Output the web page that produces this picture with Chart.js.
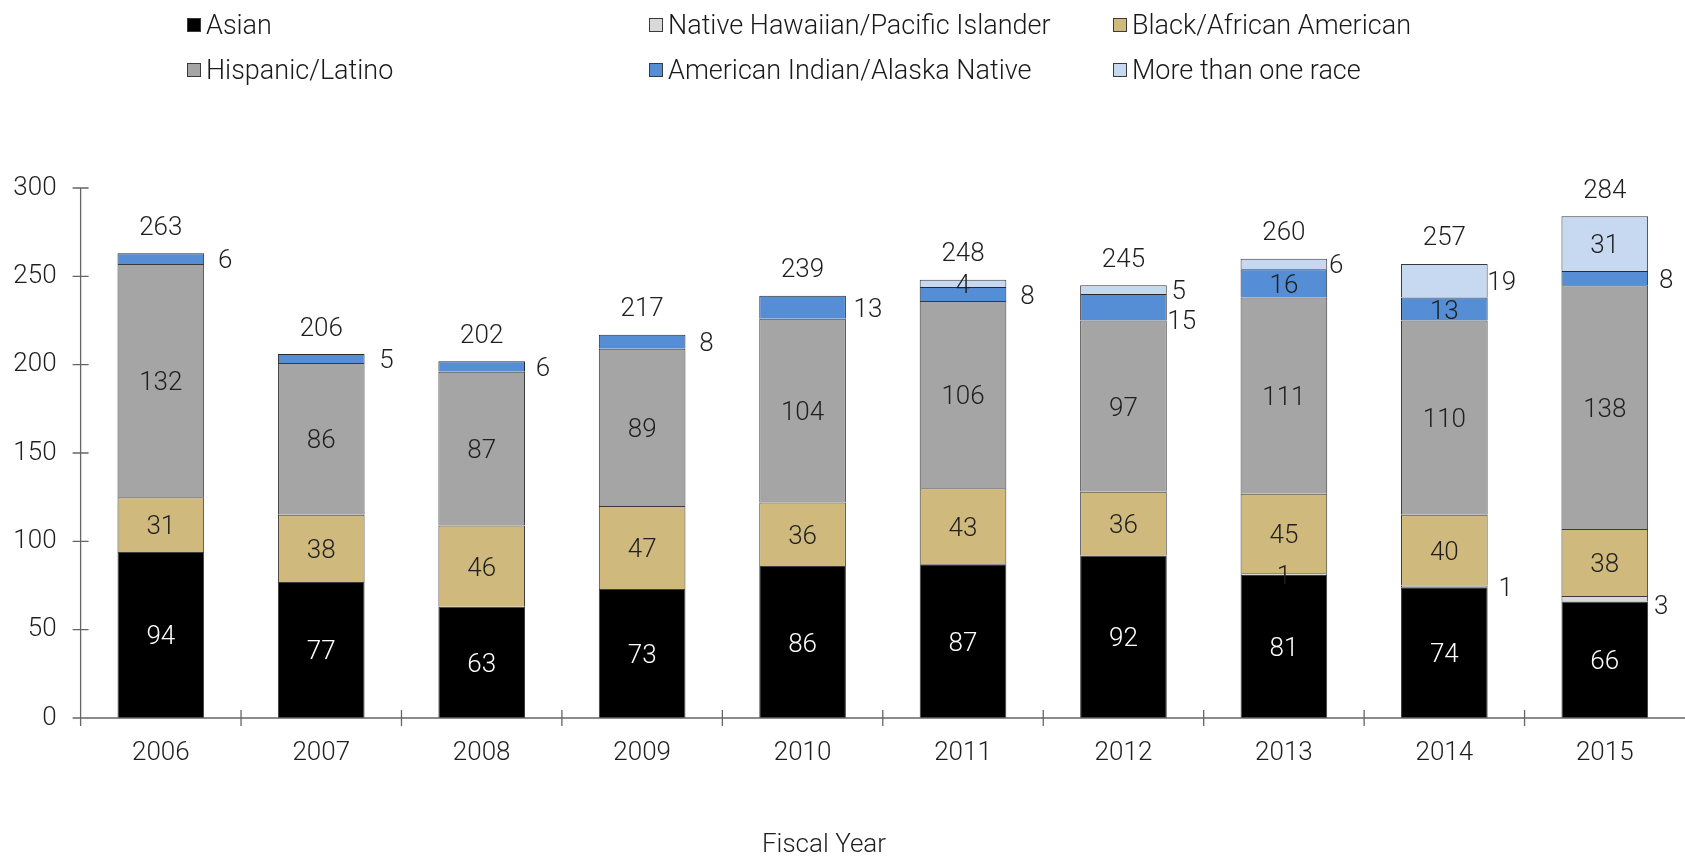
<!DOCTYPE html>
<html>
<head>
<meta charset="utf-8">
<script src="https://cdn.jsdelivr.net/npm/chart.js@4.4.1/dist/chart.umd.min.js"></script>
<style>
  html, body { margin: 0; padding: 0; background: #fff; }
  #wrap { position: relative; width: 1685px; height: 857px; }
  #legend { position: absolute; left: 0; top: 0; width: 1685px; height: 100px;
            font-family: Roboto, "Liberation Sans", sans-serif; font-weight: 300; font-size: 27px; color: #1a1a1a; }
  .item { position: absolute; display: flex; align-items: center; white-space: nowrap; transform: translateY(-50%); }
  .box { width: 12px; height: 12px; border: 1px solid #3a3a3a; margin-right: 5px; }
</style>
</head>
<body>
<div id="wrap">
  <canvas id="myChart" width="1685" height="857"></canvas>
  <div id="legend"></div>
</div>
<script>
// fiscal years and headcounts per group
var years = ['2006', '2007', '2008', '2009', '2010', '2011', '2012', '2013', '2014', '2015'];
var asian    = [94, 77, 63, 73, 86, 87, 92, 81, 74, 66];
var pacific  = [0, 0, 0, 0, 0, 0, 0, 1, 1, 3];
var black    = [31, 38, 46, 47, 36, 43, 36, 45, 40, 38];
var hispanic = [132, 86, 87, 89, 104, 106, 97, 111, 110, 138];
var indian   = [6, 5, 6, 8, 13, 8, 15, 16, 13, 8];
var multi    = [0, 0, 0, 0, 0, 4, 5, 6, 19, 31];
var yTicks   = [0, 50, 100, 150, 200, 250, 300];

var FONT = 'Roboto, "Liberation Sans", sans-serif';
var TEXT = '#1f1f1f';

// labels that sit beside the bar instead of inside it: "dataset-year": [dx, dy]
var beside = {
  '4-0': [21, 0], '4-1': [22, 0], '4-2': [18, 0], '4-3': [21, 0], '4-4': [22, 0],
  '4-5': [21, 0], '4-6': [15, 12], '4-9': [18, 0],
  '5-6': [12, 0], '5-7': [9, 0], '5-8': [14, 0],
  '1-8': [18, 0], '1-9': [13, 6]
};

var totals = years.map(function(_, i) {
  return asian[i] + pacific[i] + black[i] + hispanic[i] + indian[i] + multi[i];
});

var series = [
  { label: 'Asian', data: asian, backgroundColor: '#000000', borderColor: '#3c3c3c', text: '#ffffff' },
  { label: 'Native Hawaiian/Pacific Islander', data: pacific, backgroundColor: '#d9d9d9', borderColor: '#3a3a3a', text: TEXT },
  { label: 'Black/African American', data: black, backgroundColor: '#cfb97d', borderColor: '#3a3a3a', text: TEXT },
  { label: 'Hispanic/Latino', data: hispanic, backgroundColor: '#a4a5a4', borderColor: '#3a3a3a', text: TEXT },
  { label: 'American Indian/Alaska Native', data: indian, backgroundColor: '#558ed5', borderColor: '#2a2a2a', text: TEXT },
  { label: 'More than one race', data: multi, backgroundColor: '#c6d9f1', borderColor: '#3a3a3a', text: TEXT }
];

var axesPlugin = {
  id: 'axes',
  afterDatasetsDraw: function(chart) {
    var c = chart.ctx, x = chart.scales.x, y = chart.scales.y;
    var left = chart.chartArea.left, bottom = y.getPixelForValue(0);
    c.save();
    c.strokeStyle = '#666';
    c.lineWidth = 1.3;
    c.beginPath();
    c.moveTo(left, y.getPixelForValue(300));
    c.lineTo(left, bottom + 8);
    c.moveTo(left - 8, bottom);
    c.lineTo(chart.width, bottom);
    yTicks.forEach(function(v) {
      var py = y.getPixelForValue(v);
      c.moveTo(left - 8, py);
      c.lineTo(left + 8, py);
    });
    for (var i = 1; i < years.length; i++) {
      var px = (x.getPixelForValue(i - 1) + x.getPixelForValue(i)) / 2;
      c.moveTo(px, bottom - 8);
      c.lineTo(px, bottom + 8);
    }
    c.stroke();
    c.restore();
  }
};

var labelPlugin = {
  id: 'segLabels',
  afterDatasetsDraw: function(chart) {
    var c = chart.ctx, y = chart.scales.y, x = chart.scales.x;
    c.save();
    c.font = '300 26px ' + FONT;
    c.textAlign = 'center';
    c.textBaseline = 'middle';
    chart.data.datasets.forEach(function(ds, d) {
      chart.getDatasetMeta(d).data.forEach(function(bar, i) {
        var v = ds.data[i];
        if (!v) return;
        var cy = (bar.y + bar.base) / 2 + 3;
        var key = d + '-' + i;
        if (beside[key]) {
          c.fillStyle = TEXT;
          c.fillText(String(v), bar.x + bar.width / 2 + beside[key][0], cy + beside[key][1]);
        } else {
          c.fillStyle = ds.text;
          c.fillText(String(v), bar.x, cy);
        }
      });
    });
    // totals above each bar
    c.fillStyle = TEXT;
    totals.forEach(function(t, i) {
      c.fillText(String(t), x.getPixelForValue(i), y.getPixelForValue(t) - 25);
    });
    // axis title
    c.fillText('Fiscal Year', 824, 845);
    c.restore();
  }
};

var ctx = document.getElementById('myChart').getContext('2d');
var myChart = new Chart(ctx, {
  type: 'bar',
  data: { labels: years, datasets: series },
  options: {
    responsive: false,
    animation: false,
    layout: { padding: { top: 188, right: 0, left: 0, bottom: 0 } },
    datasets: { bar: { borderWidth: 1, categoryPercentage: 1, barPercentage: 0.54 } },
    plugins: { legend: { display: false }, tooltip: { enabled: false } },
    scales: {
      x: {
        stacked: true,
        grid: { display: false, drawTicks: false },
        border: { display: false },
        ticks: { color: TEXT, padding: 20, font: { family: FONT, size: 26, weight: '300' } },
        afterFit: function(s) { s.height = 139; }
      },
      y: {
        stacked: true, min: 0, max: 300,
        grid: { display: false, drawTicks: false },
        border: { display: false },
        ticks: { stepSize: 50, color: TEXT, padding: 24, font: { family: FONT, size: 26, weight: '300' } },
        afterFit: function(s) { s.width = 80.6; }
      }
    }
  },
  plugins: [axesPlugin, labelPlugin]
});

// legend in three columns, two rows
var cols = [187, 649, 1113], rows = [25, 70];
var legend = document.getElementById('legend');
series.forEach(function(s, i) {
  var item = document.createElement('div');
  item.className = 'item';
  item.style.left = cols[i % 3] + 'px';
  item.style.top = rows[Math.floor(i / 3)] + 'px';
  var box = document.createElement('span');
  box.className = 'box';
  box.style.background = s.backgroundColor;
  item.appendChild(box);
  item.appendChild(document.createTextNode(s.label));
  legend.appendChild(item);
});
</script>
</body>
</html>
